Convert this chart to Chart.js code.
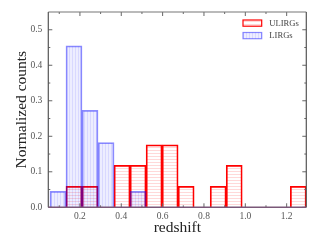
<!DOCTYPE html>
<html>
<head>
<meta charset="utf-8">
<script src="https://cdn.jsdelivr.net/npm/chart.js@4.4.1/dist/chart.umd.min.js"></script>
<style>
html,body{margin:0;padding:0;background:#fff;}
#c{display:block;}
</style>
</head>
<body>
<canvas id="c" width="323" height="242"></canvas>
<script>
// Bin centres (redshift), bin width ~0.0775
const binCenters = [0.0938, 0.1713, 0.2488, 0.3263, 0.4038, 0.4813, 0.5588, 0.6363, 0.7138, 0.7913, 0.8688, 0.9463, 1.0238, 1.1013, 1.1788, 1.2563];
const ulirgs = [0, 0.059, 0.059, 0, 0.118, 0.118, 0.176, 0.176, 0.059, 0, 0.059, 0.118, 0, 0, 0, 0.059];
const lirgs  = [0.045, 0.455, 0.273, 0.182, 0, 0.045, 0, 0, 0, 0, 0, 0, 0, 0, 0, 0];
const seriesLabels = ['ULIRGs', 'LIRGs'];
const xMajorTicks = [0.2, 0.4, 0.6, 0.8, 1.0, 1.2];
const xMinorTicks = [0.1, 0.3, 0.5, 0.7, 0.9, 1.1];
const yMajorTicks = [0.0, 0.1, 0.2, 0.3, 0.4, 0.5];
const yMinorTicks = [0.05, 0.15, 0.25, 0.35, 0.45];

function makePattern(kind){
  const cv = document.createElement('canvas');
  const g = cv.getContext('2d');
  if(kind === 'h'){
    cv.width = 3; cv.height = 3;
    g.fillStyle = 'rgba(255,0,0,0.15)';
    g.fillRect(0,0,3,1);
  } else {
    cv.width = 3; cv.height = 3;
    g.fillStyle = 'rgba(0,0,255,0.07)';
    g.fillRect(0,0,3,3);
    g.fillStyle = 'rgba(0,0,255,0.09)';
    g.fillRect(0,0,1,3);
  }
  return g.createPattern(cv,'repeat');
}
const ctx0 = document.getElementById('c').getContext('2d');
const redPat = makePattern('h');
const bluePat = makePattern('v');
const redEdge = '#ff0000';
const blueEdge = 'rgba(0,0,255,0.45)';

const serif = "'Liberation Serif', 'DejaVu Serif', serif";

const framePlugin = {
  id: 'frame',
  afterDatasetsDraw(chart){
    const {ctx, chartArea:{left,right,top,bottom}, scales:{x,y}} = chart;
    ctx.save();
    ctx.strokeStyle = '#666';
    ctx.lineWidth = 1;
    const line = (x1,y1,x2,y2)=>{ctx.beginPath();ctx.moveTo(x1,y1);ctx.lineTo(x2,y2);ctx.stroke();};
    xMajorTicks.forEach(v=>{const p=x.getPixelForValue(v); line(p,bottom,p,bottom-4); line(p,top,p,top+4);});
    xMinorTicks.forEach(v=>{const p=x.getPixelForValue(v); line(p,bottom,p,bottom-2); line(p,top,p,top+2);});
    yMajorTicks.forEach(v=>{const p=y.getPixelForValue(v); line(left,p,left+4,p); line(right,p,right-4,p);});
    yMinorTicks.forEach(v=>{const p=y.getPixelForValue(v); line(left,p,left+2,p); line(right,p,right-2,p);});
    ctx.lineWidth = 1.2;
    ctx.strokeStyle = '#777';
    line(left,top,right,top);
    ctx.strokeStyle = '#555';
    line(left,top,left,bottom);
    line(right,top,right,bottom);
    ctx.strokeStyle = '#7a5878';
    ctx.lineWidth = 1.6;
    line(left,bottom,right,bottom);
    ctx.restore();
  },
  afterDraw(chart){
    const {ctx, chartArea:{right,top}} = chart;
    ctx.save();
    const items = [
      {label: seriesLabels[0], fill: redPat, edge: redEdge, y: top + 8},
      {label: seriesLabels[1], fill: bluePat, edge: blueEdge, y: top + 20.5}
    ];
    items.forEach(it=>{
      const x0 = right - 63.3, w = 18.7, h = 6.2;
      ctx.fillStyle = it.fill;
      ctx.fillRect(x0, it.y, w, h);
      ctx.strokeStyle = it.edge;
      ctx.lineWidth = 1.2;
      ctx.strokeRect(x0, it.y, w, h);
      ctx.fillStyle = '#444';
      ctx.font = "8.6px " + serif;
      ctx.textBaseline = 'middle';
      ctx.textAlign = 'left';
      ctx.fillText(it.label, right - 37, it.y + h/2 + 0.3);
    });
    ctx.restore();
  }
};

new Chart(ctx0, {
  type: 'bar',
  data: {
    datasets: [
      {
        label: seriesLabels[0],
        data: binCenters.map((c,i)=>({x:c, y:ulirgs[i]})),
        backgroundColor: redPat,
        borderColor: redEdge,
        borderWidth: 1.1,
        borderSkipped: 'start',
        order: 1,
        grouped: false,
        barPercentage: 1,
        categoryPercentage: 1
      },
      {
        label: seriesLabels[1],
        data: binCenters.map((c,i)=>({x:c, y:lirgs[i]})),
        backgroundColor: bluePat,
        borderColor: blueEdge,
        borderWidth: 1.1,
        borderSkipped: 'start',
        order: 0,
        grouped: false,
        barPercentage: 1,
        categoryPercentage: 1
      }
    ]
  },
  options: {
    responsive: false,
    animation: false,
    devicePixelRatio: 1,
    layout: {padding: {left: 0, top: 12, right: 16.7, bottom: 0}},
    plugins: {legend: {display: false}, tooltip: {enabled: false}},
    scales: {
      x: {
        type: 'linear',
        min: 0.047,
        max: 1.295,
        offset: false,
        grid: {display: false, drawTicks: false},
        border: {display: false},
        afterBuildTicks: s => { s.ticks = xMajorTicks.map(v=>({value:v})); },
        afterFit: s => { s.height = 34.7; },
        ticks: {
          padding: 3,
          maxRotation: 0,
          autoSkip: false,
          color: '#555',
          font: {family: serif, size: 9.5},
          callback: v => Number(v).toFixed(1)
        },
        title: {
          display: true,
          text: 'redshift',
          color: '#222',
          font: {family: serif, size: 15.5},
          padding: {top: 0, bottom: 4.5}
        }
      },
      y: {
        min: 0,
        max: 0.55,
        grid: {display: false, drawTicks: false},
        border: {display: false},
        afterBuildTicks: s => { s.ticks = yMajorTicks.map(v=>({value:v})); },
        afterFit: s => { s.width = 48.3; },
        ticks: {
          padding: 6,
          autoSkip: false,
          color: '#555',
          font: {family: serif, size: 9.5},
          callback: v => Number(v).toFixed(1)
        },
        title: {
          display: true,
          text: 'Normalized counts',
          color: '#222',
          font: {family: serif, size: 15.5},
          padding: {top: 12.5, bottom: 0}
        }
      }
    }
  },
  plugins: [framePlugin]
});
</script>
</body>
</html>
